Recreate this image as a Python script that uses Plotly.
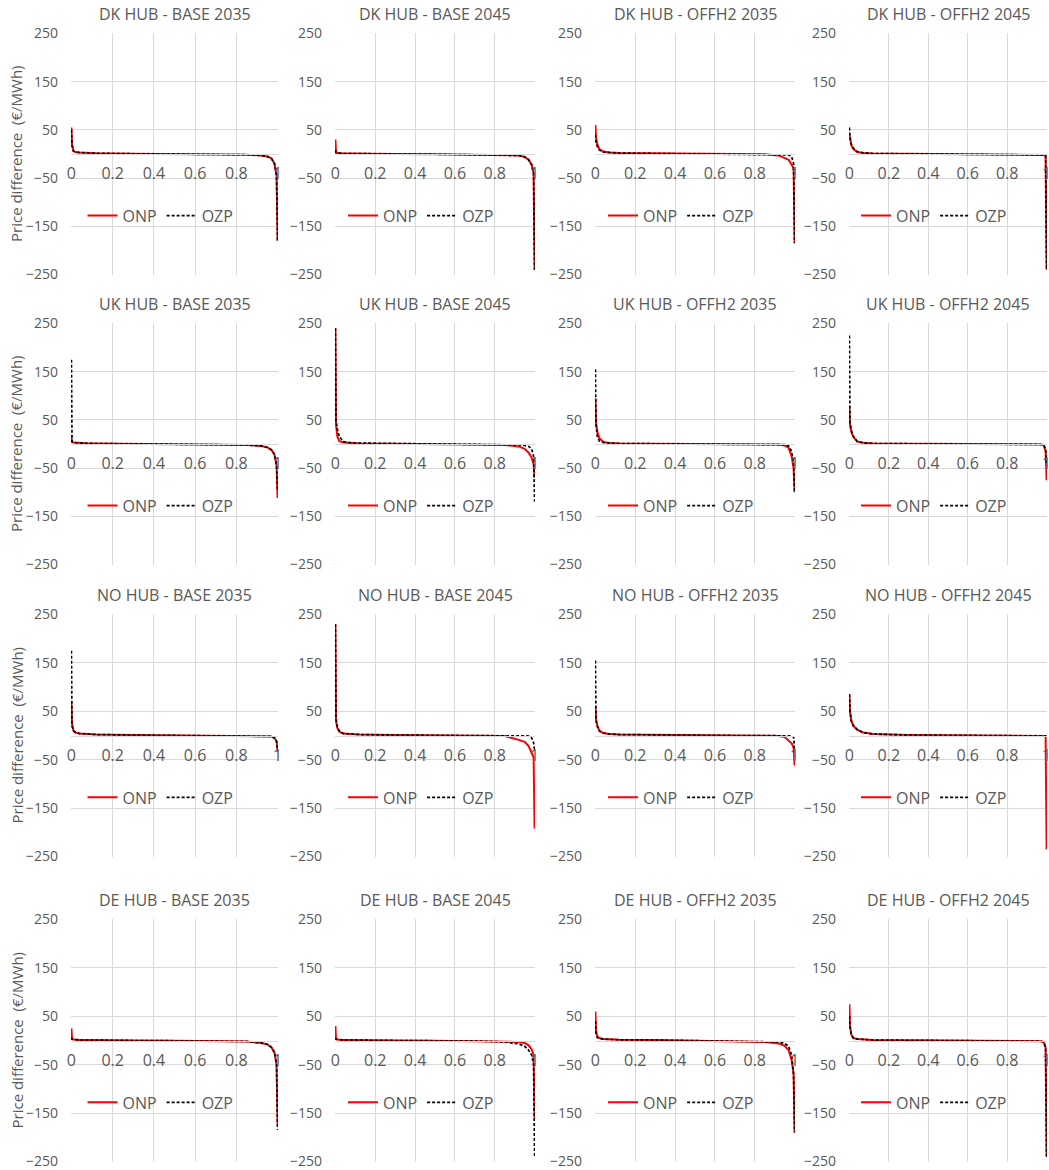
import plotly.graph_objects as go

# Share of hours (duration-curve x position, 0..1)
X_FRAC = [0, 0.003, 0.01, 0.02, 0.04, 0.07, 0.12, 0.3, 0.5, 0.7, 0.85, 0.92, 0.95, 0.97, 0.985, 0.995, 1]

# Price differences (EUR/MWh)
DK_BASE_2035_ONP = [55, 20, 6, 4, 3, 2, 1.5, 0.5, 0, -0.5, -1.5, -3, -5, -9, -20, -45, -180]
DK_BASE_2035_OZP = [50, 18, 6, 4, 3, 2, 1.5, 0.5, 0, -0.5, -1.5, -3, -5, -9, -20, -45, -180]
DK_BASE_2045_ONP = [30, 3, 2, 1.5, 1, 1, 0.5, 0, -0.5, -1, -1.5, -3, -6, -12, -22, -40, -240]
DK_BASE_2045_OZP = [8, 3, 2, 1.5, 1, 1, 0.5, 0, -0.5, -1, -1.5, -3, -6, -12, -22, -40, -240]
DK_OFFH2_2035_ONP = [60, 35, 20, 10, 5, 3, 2, 1, 0.5, 0, -0.5, -3, -8, -12, -22, -30, -185]
DK_OFFH2_2035_OZP = [40, 25, 15, 8, 4, 3, 2, 1, 0.5, 0, -0.5, -1, -1.5, -2, -5, -20, -185]
DK_OFFH2_2045_ONP = [40, 30, 18, 10, 4, 2, 1, 0.5, 0, 0, -0.5, -1, -1, -1.5, -2, -3, -240]
DK_OFFH2_2045_OZP = [55, 35, 20, 12, 5, 2.5, 1, 0.5, 0, 0, -0.5, -1, -1, -1.5, -2, -3, -240]

UK_BASE_2035_ONP = [15, 4, 3, 2.5, 2, 1.5, 1, 0.5, 0, -0.5, -2, -4, -7, -12, -22, -45, -112]
UK_BASE_2035_OZP = [175, 5, 3, 2.5, 2, 1.5, 1, 0.5, 0, -0.5, -2, -4, -7, -12, -22, -45, -95]
UK_BASE_2045_ONP = [240, 40, 15, 6, 3, 2, 1, 0.5, 0, -0.5, -2, -5, -10, -18, -28, -42, -70]
UK_BASE_2045_OZP = [240, 50, 30, 15, 5, 3, 2, 1, 0.5, 0, -1, -2, -3, -5, -10, -25, -120]
UK_OFFH2_2035_ONP = [95, 45, 25, 12, 4, 2, 1, 0.5, 0, 0, -0.5, -1, -3, -8, -25, -50, -100]
UK_OFFH2_2035_OZP = [155, 40, 15, 6, 3, 2, 1, 0.5, 0, 0, -0.5, -1, -1.5, -4, -15, -40, -100]
UK_OFFH2_2045_ONP = [75, 40, 25, 15, 5, 2.5, 1, 0.5, 0, 0, 0, -0.5, -0.5, -1, -2, -15, -75]
UK_OFFH2_2045_OZP = [225, 45, 28, 16, 5, 2.5, 1, 0.5, 0, 0, 0, -0.5, -0.5, -1, -2, -10, -45]

NO_BASE_2035_ONP = [70, 25, 10, 6, 4, 3, 2, 1, 0.5, 0, -0.5, -1, -1.5, -2, -5, -12, -33]
NO_BASE_2035_OZP = [175, 20, 10, 6, 4, 3, 2, 1, 0.5, 0, -0.5, -1, -1.5, -2, -5, -12, -33]
NO_BASE_2045_ONP = [230, 30, 15, 8, 4, 3, 2, 1, 0.5, 0, -1, -9, -13, -22, -38, -45, -192]
NO_BASE_2045_OZP = [230, 35, 18, 9, 4, 3, 2, 1, 0.5, 0, 0, 0, 0, -1, -5, -15, -30]
NO_OFFH2_2035_ONP = [60, 35, 20, 10, 5, 3, 2, 1, 0.5, 0, -0.5, -1, -3, -10, -16, -25, -62]
NO_OFFH2_2035_OZP = [155, 30, 18, 9, 5, 3, 2, 1, 0.5, 0, 0, 0, 0, 0, -1, -3, -30]
NO_OFFH2_2045_ONP = [85, 50, 30, 20, 12, 6, 3, 1, 0.5, 0, 0, 0, 0, 0, -0.5, -1, -235]
NO_OFFH2_2045_OZP = [85, 50, 30, 20, 12, 6, 3, 1, 0.5, 0, 0, 0, 0, 0, -0.5, -1, -5]

DE_BASE_2035_ONP = [25, 3, 2, 1.5, 1, 1, 0.5, 0, -0.5, -1, -2, -5, -8, -14, -25, -50, -175]
DE_BASE_2035_OZP = [6, 3, 2, 1.5, 1, 1, 0.5, 0, -0.5, -1, -2, -5, -8, -14, -25, -50, -185]
DE_BASE_2045_ONP = [30, 3, 2, 1.5, 1, 1, 0.5, 0, -0.5, -1, -1.5, -3, -5, -10, -18, -30, -160]
DE_BASE_2045_OZP = [5, 3, 2, 1.5, 1, 1, 0.5, 0, -0.5, -1, -3, -7, -12, -20, -30, -50, -240]
DE_OFFH2_2035_ONP = [60, 20, 8, 5, 3, 2, 1.5, 1, 0, -1, -3, -6, -11, -20, -40, -70, -190]
DE_OFFH2_2035_OZP = [40, 15, 6, 4, 3, 2, 1.5, 1, 0, -1, -2, -3, -6, -12, -30, -70, -190]
DE_OFFH2_2045_ONP = [75, 30, 12, 5, 3, 2, 1, 0.5, 0, 0, -0.5, -1, -1, -1.5, -3, -15, -240]
DE_OFFH2_2045_OZP = [50, 28, 12, 5, 3, 2, 1, 0.5, 0, 0, -0.5, -1, -1, -1.5, -3, -15, -240]

TITLES = [
    "DK HUB - BASE 2035", "DK HUB - BASE 2045", "DK HUB - OFFH2 2035", "DK HUB - OFFH2 2045",
    "UK HUB - BASE 2035", "UK HUB - BASE 2045", "UK HUB - OFFH2 2035", "UK HUB - OFFH2 2045",
    "NO HUB - BASE 2035", "NO HUB - BASE 2045", "NO HUB - OFFH2 2035", "NO HUB - OFFH2 2045",
    "DE HUB - BASE 2035", "DE HUB - BASE 2045", "DE HUB - OFFH2 2035", "DE HUB - OFFH2 2045",
]
ONP_SERIES = [
    DK_BASE_2035_ONP, DK_BASE_2045_ONP, DK_OFFH2_2035_ONP, DK_OFFH2_2045_ONP,
    UK_BASE_2035_ONP, UK_BASE_2045_ONP, UK_OFFH2_2035_ONP, UK_OFFH2_2045_ONP,
    NO_BASE_2035_ONP, NO_BASE_2045_ONP, NO_OFFH2_2035_ONP, NO_OFFH2_2045_ONP,
    DE_BASE_2035_ONP, DE_BASE_2045_ONP, DE_OFFH2_2035_ONP, DE_OFFH2_2045_ONP,
]
OZP_SERIES = [
    DK_BASE_2035_OZP, DK_BASE_2045_OZP, DK_OFFH2_2035_OZP, DK_OFFH2_2045_OZP,
    UK_BASE_2035_OZP, UK_BASE_2045_OZP, UK_OFFH2_2035_OZP, UK_OFFH2_2045_OZP,
    NO_BASE_2035_OZP, NO_BASE_2045_OZP, NO_OFFH2_2035_OZP, NO_OFFH2_2045_OZP,
    DE_BASE_2035_OZP, DE_BASE_2045_OZP, DE_OFFH2_2035_OZP, DE_OFFH2_2045_OZP,
]

Y_TICKS = [-250, -150, -50, 50, 150, 250]
X_TICKS = [0, 0.2, 0.4, 0.6, 0.8, 1]
X_TICK_TEXT = ["0", "0.2", "0.4", "0.6", "0.8", "1"]
Y_LABEL = "Price difference  (€/MWh)"

W, H = 1049, 1170
COL_PX = [(71, 278), (335, 535), (595, 795), (849, 1047)]
ROW_PX = [(33, 275), (323, 565), (614, 857), (919, 1162)]

FONT = "Open Sans"
GREY = "#595959"
GRID = "#d9d9d9"


def px_x(v):
    return v / W


def px_y(v):
    return 1 - v / H


fig = go.Figure()
layout = {}
annotations = []

for i, title in enumerate(TITLES):
    r, c = divmod(i, 4)
    n = i + 1
    sfx = "" if n == 1 else str(n)
    xa, ya = "x" + sfx, "y" + sfx
    lg = "legend" + sfx
    x0, x1 = COL_PX[c]
    t, b = ROW_PX[r]
    xd = [px_x(x0), px_x(x1)]
    yd = [px_y(b), px_y(t)]

    fig.add_trace(go.Scatter(x=X_FRAC, y=ONP_SERIES[i], name="ONP", mode="lines",
                             line=dict(color="#FF0000", width=2),
                             xaxis=xa, yaxis=ya, legend=lg, hoverinfo="skip", cliponaxis=False))
    fig.add_trace(go.Scatter(x=X_FRAC, y=OZP_SERIES[i], name="OZP", mode="lines",
                             line=dict(color="#000000", width=1.7, dash="3px,2px"),
                             xaxis=xa, yaxis=ya, legend=lg, hoverinfo="skip", cliponaxis=False))

    layout["xaxis" + sfx] = dict(
        domain=xd, range=[-0.002, 1.002], anchor="free", position=(yd[0] + yd[1]) / 2,
        tickvals=X_TICKS, ticktext=X_TICK_TEXT, showgrid=True, gridcolor=GRID, gridwidth=1,
        showline=True, linecolor=GRID, linewidth=1, ticks="", zeroline=False,
        tickfont=dict(family=FONT, size=16, color=GREY), ticklabelstandoff=5,
        ticklabeloverflow="allow", automargin=False, fixedrange=True,
    )
    layout["yaxis" + sfx] = dict(
        domain=yd, anchor=xa, range=[-251, 251], tickvals=Y_TICKS,
        showgrid=True, gridcolor=GRID, gridwidth=1, zeroline=False, showline=False,
        ticks="", tickfont=dict(family=FONT, size=14, color=GREY), ticklabelstandoff=12,
        ticklabeloverflow="allow", automargin=False, fixedrange=True,
    )
    leg_y_px = t + (b - t) * 0.755
    layout[lg] = dict(
        x=px_x((x0 + x1) / 2 - 14), y=px_y(leg_y_px), xanchor="center", yanchor="middle",
        orientation="h", bgcolor="rgba(0,0,0,0)", font=dict(family=FONT, size=16, color=GREY),
        itemwidth=30, tracegroupgap=0,
    )
    annotations.append(dict(
        text=title, x=px_x((x0 + x1) / 2), y=px_y(t - 19), xref="paper", yref="paper",
        xanchor="center", yanchor="middle", showarrow=False,
        font=dict(family=FONT, size=16, color=GREY),
    ))
    if c == 0:
        annotations.append(dict(
            text=Y_LABEL, x=px_x(16), y=px_y((t + b) / 2), xref="paper", yref="paper",
            xanchor="center", yanchor="middle", showarrow=False, textangle=-90,
            font=dict(family=FONT, size=15, color=GREY),
        ))

fig.update_layout(
    width=W, height=H, margin=dict(l=0, r=0, t=0, b=0, autoexpand=False),
    paper_bgcolor="white", plot_bgcolor="white",
    showlegend=True, annotations=annotations, **layout,
)

# Remove the browser's default page margin so the figure fills the window exactly
fig.write_html(
    "out.html",
    config={"displayModeBar": False, "staticPlot": True},
    post_script="document.body.style.margin='0';document.body.style.overflow='hidden';",
)
